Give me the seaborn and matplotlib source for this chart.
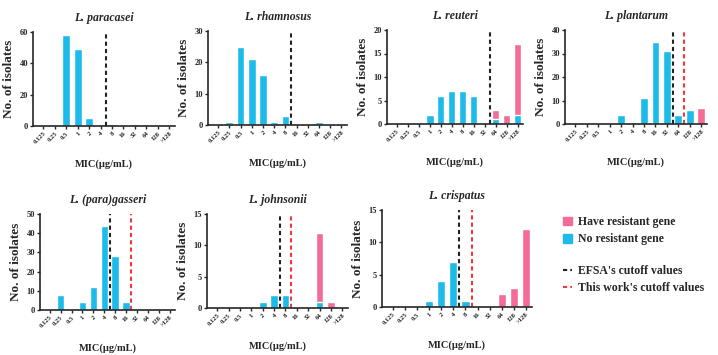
import matplotlib
matplotlib.use("Agg")
import matplotlib.pyplot as plt
import seaborn as sns
from matplotlib.patches import Patch
from matplotlib.lines import Line2D

sns.set_style("ticks")
plt.rcParams['font.family'] = ['Liberation Serif', 'DejaVu Serif']
plt.rcParams['font.weight'] = 'bold'

mic_labels = ["0.125", "0.25", "0.5", "1", "2", "4", "8", "16", "32", "64", "128", ">128"]

# counts per MIC bin: blue = no resistant gene, pink = have resistant gene
paracasei_no = [0, 0, 58, 49, 5, 1, 1, 0, 1, 0, 0, 0]
paracasei_have = [0, 0, 0, 0, 0, 0, 0, 0, 0, 1, 0, 0]
rhamnosus_no = [0, 1, 25, 21, 16, 1, 3, 0, 0, 1, 0, 0]
rhamnosus_have = [0] * 12
reuteri_no = [0, 0, 0, 2, 6, 7, 7, 6, 0, 1, 0, 2]
reuteri_have = [0, 0, 0, 0, 0, 0, 0, 0, 0, 2, 2, 15]
plantarum_no = [0, 0, 0, 0, 4, 1, 11, 35, 31, 4, 6, 0]
plantarum_have = [0, 0, 0, 0, 0, 0, 0, 0, 0, 0, 0, 7]
gasseri_no = [0, 8, 0, 4, 12, 44, 28, 4, 0, 0, 0, 0]
gasseri_have = [0] * 12
johnsonii_no = [0, 0, 0, 0, 1, 2, 2, 0, 0, 1, 0, 0]
johnsonii_have = [0, 0, 0, 0, 0, 0, 0, 0, 0, 11, 1, 0]
crispatus_no = [0, 0, 0, 1, 4, 7, 1, 0, 0, 0, 0, 0]
crispatus_have = [0, 0, 0, 0, 0, 0, 0, 0, 0, 2, 3, 12]

# cutoff MIC values (line drawn just above that bin)
efsa_cutoff = {"paracasei": "4", "rhamnosus": "8", "reuteri": "32", "plantarum": "32",
               "gasseri": "4", "johnsonii": "4", "crispatus": "4"}
work_cutoff = {"plantarum": "64", "gasseri": "16", "johnsonii": "8", "crispatus": "8"}

panels = [
    ("paracasei", "L. paracasei", paracasei_no, paracasei_have, 60, 20, [33, 32, 175, 126]),
    ("rhamnosus", "L. rhamnosus", rhamnosus_no, rhamnosus_have, 30, 10, [208, 31, 347, 125]),
    ("reuteri", "L. reuteri", reuteri_no, reuteri_have, 20, 5, [387, 30, 523, 124]),
    ("plantarum", "L. plantarum", plantarum_no, plantarum_have, 40, 10, [565, 30, 707, 124]),
    ("gasseri", "L. (para)gasseri", gasseri_no, gasseri_have, 50, 10, [40, 214, 175, 310]),
    ("johnsonii", "L. johnsonii", johnsonii_no, johnsonii_have, 15, 5, [207, 214, 348, 308]),
    ("crispatus", "L. crispatus", crispatus_no, crispatus_have, 15, 5, [382, 210, 532, 307]),
]

blue = "#1CBBEA"
pink = "#F46C96"
W, H = 718, 355

fig = plt.figure(figsize=(W / 100, H / 100), dpi=100)

for key, title, no_gene, have_gene, ymax, ystep, box in panels:
    x0, y0, x1, y1 = box
    ax = fig.add_axes([x0 / W, (H - y1) / H, (x1 - x0) / W, (y1 - y0) / H])
    total = [a + b for a, b in zip(no_gene, have_gene)]
    sns.barplot(x=mic_labels, y=total, color=pink, saturation=1, width=0.68, ax=ax)
    sns.barplot(x=mic_labels, y=no_gene, color=blue, saturation=1, width=0.68, ax=ax)

    ax.axvline(mic_labels.index(efsa_cutoff[key]) + 0.5, color="#222222", ls=(0, (2, 1.5)), lw=1.5)
    if key in work_cutoff:
        ax.axvline(mic_labels.index(work_cutoff[key]) + 0.5, color="#F23A3A", ls=(0, (2, 1.5)), lw=1.5)

    ax.set_xlim(-0.9, 11.5)
    ax.set_ylim(0, ymax)
    ax.set_yticks(range(0, ymax + 1, ystep))
    ax.tick_params(axis="y", labelsize=6, length=2.5, width=1, pad=1)
    ax.tick_params(axis="x", labelsize=4.8, length=2.5, width=1, pad=1)
    plt.setp(ax.get_xticklabels(), rotation=45, ha="right", rotation_mode="anchor")
    for lab in ax.get_yticklabels():
        lab.set_fontweight("bold")
    for side in ["top", "right"]:
        ax.spines[side].set_visible(False)
    for side in ["left", "bottom"]:
        ax.spines[side].set_linewidth(1.2)
    ax.set_title(title, fontsize=8.5, fontweight="bold", fontstyle="italic", pad=8)
    ax.set_ylabel("No. of isolates", fontsize=9.5, fontweight="bold", labelpad=3)
    ax.set_xlabel("MIC(μg/mL)", fontsize=7.5, fontweight="bold", labelpad=10)

gene_handles = [
    Patch(color=pink, label="Have resistant gene"),
    Patch(color=blue, label="No resistant gene"),
]
line_handles = [
    Line2D([], [], color="#222222", ls=(0, (2, 1.5)), lw=1.5, label="EFSA's cutoff values"),
    Line2D([], [], color="#F23A3A", ls=(0, (2, 1.5)), lw=1.5, label="This work's cutoff values"),
]
leg1 = fig.legend(handles=gene_handles, loc="upper left", bbox_to_anchor=(563 / W, 1 - 216 / H),
                  frameon=False, fontsize=8.5, handlelength=0.8, handleheight=0.75,
                  handletextpad=0.45, labelspacing=0.45, borderpad=0, borderaxespad=0)
fig.legend(handles=line_handles, loc="upper left", bbox_to_anchor=(563 / W, 1 - 265 / H),
           frameon=False, fontsize=8.5, handlelength=0.8,
           handletextpad=0.45, labelspacing=0.4, borderpad=0, borderaxespad=0)

fig.savefig("out.png", dpi=100)
